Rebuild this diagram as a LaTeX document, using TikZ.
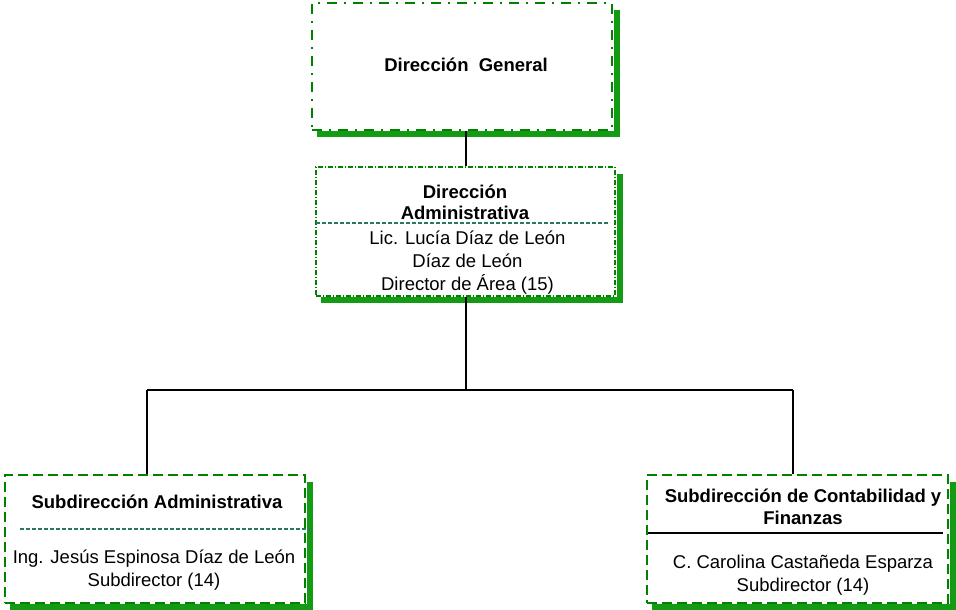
\documentclass[tikz,border=0pt]{standalone}
\usepackage{fontspec}
\setmainfont{Liberation Sans}
\usetikzlibrary{calc}
\definecolor{bordergreen}{RGB}{0,130,0}
\definecolor{shadowgreen}{RGB}{20,155,20}
\definecolor{septeal}{RGB}{40,120,100}
\begin{document}
\begin{tikzpicture}[x=1pt,y=-1pt,
  boxbase/.style={rectangle,draw=bordergreen,fill=white,inner sep=0pt},
  dgbox/.style={boxbase,line width=2.6pt,dash pattern=on 10pt off 7pt on 2pt off 7pt},
  dabox/.style={boxbase,line width=1.2pt,dash pattern=on 5pt off 2pt on 1pt off 2pt},
  subbox/.style={boxbase,line width=2.8pt,dash pattern=on 10pt off 5pt},
  shadowline/.style={draw=shadowgreen,line width=6pt},
  connector/.style={draw=black,line width=2.1pt},
  sepdash/.style={draw=septeal,line width=1.2pt,dash pattern=on 4pt off 2pt},
  sepsolid/.style={draw=black,line width=1.8pt},
  lbl/.style={anchor=base,inner sep=0pt,font=\fontsize{18.5}{23}\selectfont},
  blbl/.style={lbl,font=\fontsize{18.5}{23}\selectfont\bfseries}]
\useasboundingbox (0,0) rectangle (956,610);

% boxes
\node[dgbox,minimum width=300pt,minimum height=127pt] (dg) at (462,66.5) {};
\node[dabox,minimum width=299pt,minimum height=129pt] (da) at (465.5,231.5) {};
\node[subbox,minimum width=300pt,minimum height=128pt] (sa) at (155,539) {};
\node[subbox,minimum width=301pt,minimum height=128pt] (sc) at (797.5,539) {};

% shadows
\draw[shadowline] ($(dg.north east)+(4,8)$) -- ($(dg.south east)+(4,3)$) -- ($(dg.south west)+(6,3)$);
\draw[shadowline] ($(da.north east)+(4,8)$) -- ($(da.south east)+(4,3)$) -- ($(da.south west)+(6,3)$);
\draw[shadowline] ($(sa.north east)+(4,8)$) -- ($(sa.south east)+(4,3)$) -- ($(sa.south west)+(6,3)$);
\draw[shadowline] ($(sc.north east)+(4,8)$) -- ($(sc.south east)+(4,3)$) -- ($(sc.south west)+(6,3)$);

% separators
\coordinate (daSepL) at (316,223);
\coordinate (daSepR) at (610,223);
\draw[sepdash] (daSepL) -- (daSepR);
\coordinate (saSepL) at (20,529);
\coordinate (saSepR) at (311,529);
\draw[sepdash] (saSepL) -- (saSepR);
\coordinate (scSepL) at (648,533);
\coordinate (scSepR) at (943,533);
\draw[sepsolid] (scSepL) -- (scSepR);

% connectors
\coordinate (jc) at (466,390);
\coordinate (jl) at (147,390);
\coordinate (jr) at (793,390);
\draw[connector] (jc |- dg.south) -- (jc |- da.north);
\draw[connector] (jc |- da.south) -- (jc);
\draw[connector] (jl) -- (jr);
\draw[connector] (jl) -- (jl |- sa.north);
\draw[connector] (jr) -- (jr |- sc.north);

% texts
\node[blbl] (t1) at (466,72) {Dirección~~General};
\node[blbl] (t2a) at (465,198) {Dirección};
\node[blbl] (t2b) at (465,219) {Administrativa};
\node[lbl] (t2c) at (467.5,244) {Lic. Lucía Díaz de León};
\node[lbl] (t2d) at (467.5,267) {Díaz de León};
\node[lbl] (t2e) at (467.5,290) {Director de Área (15)};
\node[blbl] (t3a) at (157,508) {Subdirección Administrativa};
\node[lbl] (t3b) at (154,563) {Ing. Jesús Espinosa Díaz de León};
\node[lbl] (t3c) at (154,586) {Subdirector (14)};
\node[blbl] (t4a) at (803,502) {Subdirección de Contabilidad y};
\node[blbl] (t4b) at (803,524) {Finanzas};
\node[lbl] (t4c) at (803,568) {C. Carolina Castañeda Esparza};
\node[lbl] (t4d) at (803,591) {Subdirector (14)};
\end{tikzpicture}
\end{document}
